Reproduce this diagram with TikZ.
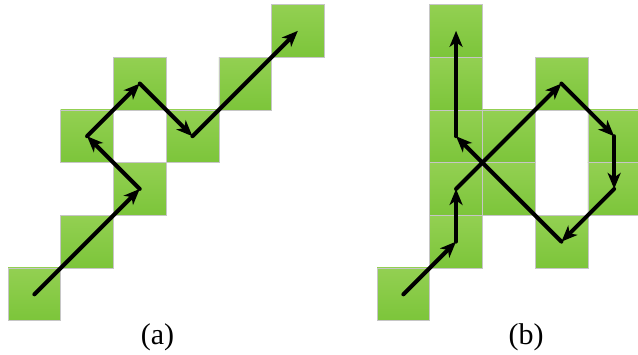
\documentclass[tikz,border=0pt]{standalone}
\usepackage{fontspec}
\setmainfont{Liberation Serif}
\usetikzlibrary{arrows.meta}

\definecolor{celltop}{RGB}{147,208,82}
\definecolor{cellbot}{RGB}{124,197,58}
\definecolor{cellrule}{RGB}{198,198,198}

\tikzset{
	cell/.style={draw=cellrule, line width=0.6pt, top color=celltop, bottom color=cellbot,
		minimum size=52.7pt, inner sep=0pt, outer sep=0pt},
	walk/.style={line width=4pt, line cap=round, line join=round,
		-{Stealth[length=16pt, width=13pt, inset=4.5pt]}},
	caption/.style={font=\fontsize{30}{34}\selectfont, inner sep=0pt}
}

\begin{document}
\begin{tikzpicture}[x=1pt, y=1pt]
	\useasboundingbox (0,0) rectangle (638,355);
	
	% (a) cells
	\foreach \c/\r in {0/0,1/1,2/2,1/3,2/4,3/3,4/4,5/5}
		\node[cell] (a\c\r) at ({34.35+52.7*\c},{60.65+52.7*\r}) {};
	
	% (b) cells
	\foreach \c/\r in {0/0,1/1,1/2,1/3,1/4,1/5,2/2,2/3,3/4,3/1,4/3,4/2}
		\node[cell] (b\c\r) at ({403.35+52.7*\c},{60.65+52.7*\r}) {};
	
	% (a) walk
	\draw[walk] (a00.center) -- (a22.center);
	\draw[walk] (a22.center) -- (a13.center);
	\draw[walk] (a13.center) -- (a24.center);
	\draw[walk] (a24.center) -- (a33.center);
	\draw[walk] (a33.center) -- (a55.center);
	
	% (b) walk
	\draw[walk] (b00.center) -- (b11.center);
	\draw[walk] (b11.center) -- (b12.center);
	\draw[walk] (b12.center) -- (b34.center);
	\draw[walk] (b34.center) -- (b43.center);
	\draw[walk] (b43.center) -- (b42.center);
	\draw[walk] (b42.center) -- (b31.center);
	\draw[walk] (b31.center) -- (b13.center);
	\draw[walk] (b13.center) -- (b15.center);
	
	\node[caption] (capa) at (157.5,17.5) {(a)};
	\node[caption] (capb) at (526,17.5) {(b)};
\end{tikzpicture}
\end{document}
